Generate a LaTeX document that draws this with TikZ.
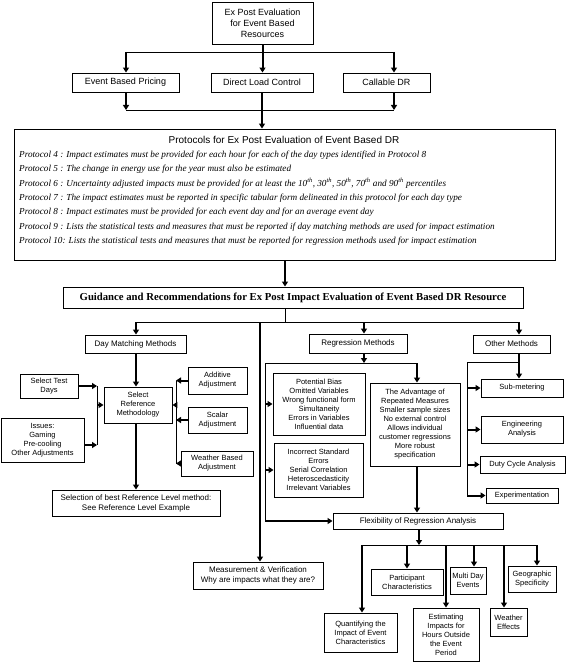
\documentclass[tikz,border=0pt]{standalone}
\usepackage{fontspec}
\setmainfont{Liberation Serif}
\setsansfont{Liberation Sans}
\usetikzlibrary{arrows.meta}
\begin{document}
\begin{tikzpicture}[x=1pt,y=-1pt,
  box/.style={draw,line width=0.9pt,inner sep=0pt,align=center,
    font=\sffamily\fontsize{7.5}{9}\selectfont},
  hbox/.style={box,font=\sffamily\fontsize{8}{10}\selectfont},
  bigbox/.style={box,font=\sffamily\fontsize{9}{11}\selectfont},
  pline/.style={anchor=west,inner sep=0pt,font=\itshape\fontsize{9.2}{11}\selectfont},
  arr/.style={line width=2pt,-{Triangle[width=6pt,length=5pt]}},
  ln/.style={line width=0.9pt}
]
\useasboundingbox (0,0) rectangle (568,663);

% top level
\node[bigbox,minimum width=101pt,minimum height=42pt] (top) at (262.5,23) {Ex Post Evaluation\\for Event Based\\Resources};
\node[bigbox,minimum width=107pt,minimum height=19pt] (ebp) at (125.5,82.5) {Event Based Pricing};
\node[bigbox,minimum width=102pt,minimum height=19pt] (dlc) at (262,82.5) {Direct Load Control};
\node[bigbox,minimum width=87pt,minimum height=19pt] (cdr) at (386.5,82.5) {Callable DR};

\coordinate (b1) at (126,52); \coordinate (b3) at (394,52);
\draw[ln] (b1) -- (b3);
\draw[arr] (top.south) -- (top.south |- dlc.north);
\draw[arr] (b1) -- (b1 |- ebp.north);
\draw[arr] (b3) -- (b3 |- cdr.north);

\coordinate (c1) at (126,110); \coordinate (c3) at (394,110);
\draw[ln] (c1) -- (c3);
\draw[arr] (c1 |- ebp.south) -- (c1);
\draw[arr] (c3 |- cdr.south) -- (c3);

% protocols
\node[draw,line width=0.9pt,inner sep=0pt,minimum width=541pt,minimum height=131pt] (prot) at (284.5,194.5) {};
\draw[arr] (dlc.south) -- (dlc.south |- prot.north);
\node[inner sep=0pt,font=\sffamily\fontsize{10}{12}\selectfont] (pt) at (284,140) {Protocols for Ex Post Evaluation of Event Based DR};
\node[pline] (p4) at (19,155) {Protocol 4 : Impact estimates must be provided for each hour for each of the day types identified in Protocol 8};
\node[pline] (p5) at (19,169) {Protocol 5 : The change in energy use for the year must also be estimated};
\node[pline] (p6) at (19,183.5) {Protocol 6 : Uncertainty adjusted impacts must be provided for at least the 10\textsuperscript{th}, 30\textsuperscript{th}, 50\textsuperscript{th}, 70\textsuperscript{th} and 90\textsuperscript{th} percentiles};
\node[pline] (p7) at (19,198) {Protocol 7 : The impact estimates must be reported in specific tabular form delineated in this protocol for each day type};
\node[pline] (p8) at (19,212.5) {Protocol 8 : Impact estimates must be provided for each event day and for an average event day};
\node[pline] (p9) at (19,227) {Protocol 9 : Lists the statistical tests and measures that must be reported if day matching methods are used for impact estimation};
\node[pline] (p10) at (19,241) {Protocol 10: Lists the statistical tests and measures that must be reported for regression methods used for impact estimation};

% guidance
\node[draw,line width=0.9pt,inner sep=0pt,minimum width=460pt,minimum height=21pt,font=\bfseries\fontsize{10.7}{12}\selectfont] (guid) at (293,297.5) {Guidance and Recommendations for Ex Post Impact Evaluation of Event Based DR Resource};
\coordinate (gx) at (285,322);
\draw[arr] (gx |- prot.south) -- (gx |- guid.north);
\draw[ln] (gx |- guid.south) -- (gx);

\node[hbox,minimum width=101pt,minimum height=18pt] (dmm) at (135.5,344) {Day Matching Methods};
\node[hbox,minimum width=98pt,minimum height=19pt] (regm) at (358,343.5) {Regression Methods};
\node[hbox,minimum width=77pt,minimum height=18pt] (othm) at (511.5,344) {Other Methods};
\node[hbox,minimum width=130pt,minimum height=27pt] (mv) at (258,575.5) {Measurement \& Verification\\Why are impacts what they are?};

\coordinate (hL) at (136,322); \coordinate (hR) at (519,322);
\coordinate (hM) at (260,322); \coordinate (hG) at (364,322);
\draw[ln] (hL) -- (hR);
\draw[arr] (hL) -- (hL |- dmm.north);
\draw[arr] (hM) -- (hM |- mv.north);
\draw[arr] (hG) -- (hG |- regm.north);
\draw[arr] (hR) -- (hR |- othm.north);

% day matching
\node[box,minimum width=58pt,minimum height=24pt] (std) at (49,386) {Select Test\\Days};
\node[box,minimum width=83pt,minimum height=44pt] (iss) at (42.5,440) {Issues:\\Gaming\\Pre-cooling\\Other Adjustments};
\node[box,minimum width=68pt,minimum height=36pt] (srm) at (138,405) {Select\\Reference\\Methodology};
\node[hbox,minimum width=168pt,minimum height=26pt] (sel) at (136,503) {Selection of best Reference Level method:\\See Reference Level Example};
\node[box,minimum width=59pt,minimum height=27pt] (add) at (217.5,380.5) {Additive\\Adjustment};
\node[box,minimum width=59pt,minimum height=26pt] (sca) at (217.5,420) {Scalar\\Adjustment};
\node[box,minimum width=72pt,minimum height=25pt] (wba) at (217,463.5) {Weather Based\\Adjustment};

\draw[arr] (hL |- dmm.south) -- (hL |- srm.north);
\draw[arr] (hL |- srm.south) -- (hL |- sel.north);
\coordinate (va) at (97,386); \coordinate (vb) at (97,445); \coordinate (vm) at (97,405);
\draw[ln] (va) -- (vb);
\draw[arr] (std.east) -- (va);
\draw[arr] (iss.east |- vb) -- (vb);
\draw[arr] (vm) -- (vm -| srm.west);
\coordinate (wa) at (176,380.5); \coordinate (wb) at (176,463.5); \coordinate (wm) at (176,405);
\draw[ln] (wa) -- (wb);
\draw[arr] (wm) -- (wm -| srm.east);
\draw[arr] (add.west) -- (wa);
\draw[arr] (sca.west) -- (sca.west -| wa);
\draw[arr] (wba.west) -- (wb);

% regression
\node[box,minimum width=92pt,minimum height=62pt] (pbias) at (319,404) {Potential Bias\\Omitted Variables\\Wrong functional form\\Simultaneity\\Errors in Variables\\Influential data};
\node[box,minimum width=89pt,minimum height=54pt] (ise) at (318.5,470) {Incorrect Standard\\Errors\\Serial Correlation\\Heteroscedasticity\\Irrelevant Variables};
\node[box,minimum width=90pt,minimum height=83pt] (adv) at (415,424.5) {The Advantage of\\Repeated Measures\\Smaller sample sizes\\No external control\\Allows individual\\customer regressions\\More robust\\specification};
\node[hbox,minimum width=170pt,minimum height=16pt] (flex) at (418,521) {Flexibility of Regression Analysis};

\coordinate (r1) at (364,363); \coordinate (rL) at (265,363); \coordinate (rR) at (417,363);
\coordinate (rB) at (265,521);
\draw[arr] (r1 |- regm.south) -- (r1);
\draw[ln] (rL) -- (rR);
\draw[ln] (rL) -- (rB);
\draw[arr] (rR) -- (rR |- adv.north);
\draw[arr] (pbias.west -| rL) -- (pbias.west);
\draw[arr] (ise.west -| rL) -- (ise.west);
\draw[arr] (rB) -- (flex.west);
\draw[arr] (rR |- adv.south) -- (rR |- flex.north);

% other methods
\node[box,minimum width=82pt,minimum height=18pt] (sub) at (522,388) {Sub-metering};
\node[box,minimum width=82pt,minimum height=27pt] (eng) at (522,429.5) {Engineering\\Analysis};
\node[box,minimum width=85pt,minimum height=17pt] (duty) at (522.5,464.5) {Duty Cycle Analysis};
\node[box,minimum width=72pt,minimum height=15pt] (exper) at (522,495.5) {Experimentation};

\coordinate (o1) at (519,362); \coordinate (oL) at (467,362); \coordinate (oB) at (467,495.5);
\draw[arr] (hR |- othm.south) -- (hR |- sub.north);
\draw[ln] (oL) -- (o1);
\draw[ln] (oL) -- (oB);
\draw[arr] (sub.west -| oL) -- (sub.west);
\draw[arr] (eng.west -| oL) -- (eng.west);
\draw[arr] (duty.west -| oL) -- (duty.west);
\draw[arr] (oB) -- (exper.west);

% flexibility children
\node[box,minimum width=73pt,minimum height=39pt] (quant) at (360.5,632.5) {Quantifying the\\Impact of Event\\Characteristics};
\node[box,minimum width=72pt,minimum height=26pt] (part) at (407,582) {Participant\\Characteristics};
\node[box,minimum width=66pt,minimum height=53pt] (est) at (446,634.5) {Estimating\\Impacts for\\Hours Outside\\the Event\\Period};
\node[box,minimum width=36pt,minimum height=27pt] (mde) at (468,580.5) {Multi Day\\Events};
\node[box,minimum width=37pt,minimum height=28pt] (wef) at (508.5,622) {Weather\\Effects};
\node[box,minimum width=48pt,minimum height=26pt] (geo) at (532,579) {Geographic\\Specificity};

\coordinate (f1) at (419,545); \coordinate (fL) at (362,545); \coordinate (fR) at (537,545);
\coordinate (fp) at (407,545); \coordinate (fe) at (446,545); \coordinate (fm) at (474,545);
\coordinate (fw) at (504,545);
\draw[arr] (f1 |- flex.south) -- (f1);
\draw[ln] (fL) -- (fR);
\draw[arr] (fL) -- (fL |- quant.north);
\draw[arr] (fp) -- (fp |- part.north);
\draw[arr] (fe) -- (fe |- est.north);
\draw[arr] (fm) -- (fm |- mde.north);
\draw[arr] (fw) -- (fw |- wef.north);
\draw[arr] (fR) -- (fR |- geo.north);
\end{tikzpicture}
\end{document}
